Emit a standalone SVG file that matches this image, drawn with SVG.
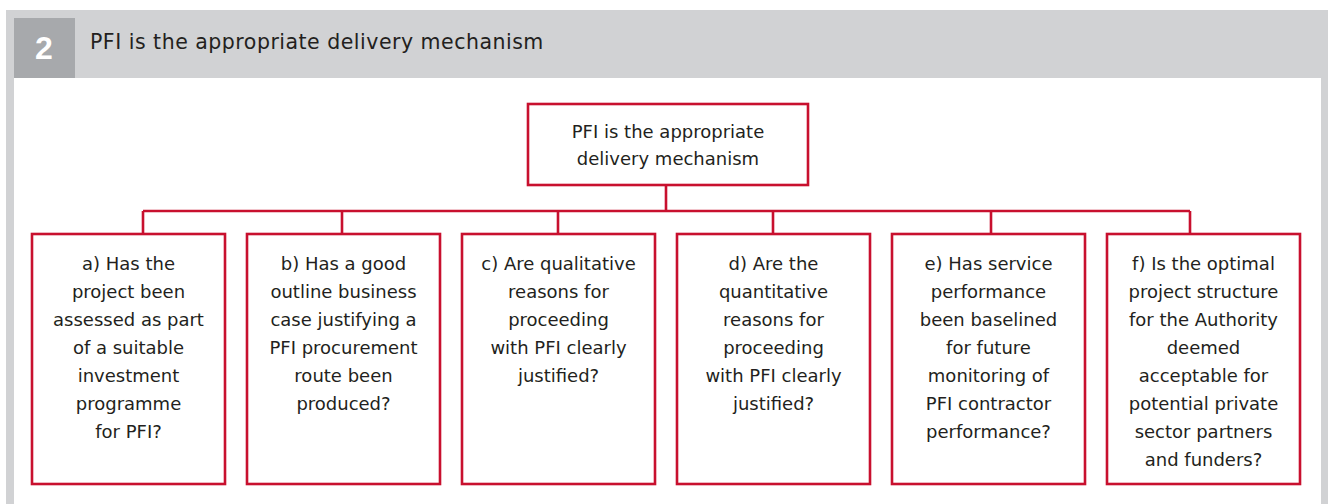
<svg xmlns="http://www.w3.org/2000/svg" width="1328" height="504" viewBox="0 0 1328 504">
<style>
.frame{fill:#d1d2d4}
.box{fill:#ffffff;stroke:#c8102e;stroke-width:2.6}
.conn{fill:none;stroke:#c8102e;stroke-width:2.6}
.t{font-family:"DejaVu Sans","Liberation Sans",sans-serif;font-size:18px;fill:#231f20;text-anchor:middle}
.hdr{font-family:"DejaVu Sans","Liberation Sans",sans-serif;font-size:20.5px;letter-spacing:0.5px;fill:#231f20}
.num{font-family:"Liberation Sans",Arial,sans-serif;font-size:32px;font-weight:bold;fill:#ffffff;text-anchor:middle}
</style>
<rect width="1328" height="504" fill="#ffffff"/>
<g id="frame">
<rect class="frame" x="6" y="10" width="1316" height="68"/>
<rect class="frame" x="6" y="10" width="8" height="494"/>
<rect class="frame" x="1321" y="10" width="7" height="494"/>
<rect x="14" y="18" width="61" height="60" fill="#a7a9ac"/>
<text class="num" x="44" y="59">2</text>
<text class="hdr" x="90" y="49">PFI is the appropriate delivery mechanism</text>
</g>
<g id="connectors">
<path class="conn" d="M666 185V211M143 211H1190M143 211V233M342 211V233M558 211V233M773 211V233M991 211V233M1190 211V233"/>
</g>
<g id="root">
<rect class="box" x="528" y="104" width="280" height="81"/>
<text class="t" x="668" y="138">PFI is the appropriate</text>
<text class="t" x="668" y="165">delivery mechanism</text>
</g>
<g id="node-a">
<rect class="box" x="32" y="234" width="193" height="250"/>
<text class="t" x="128.5" y="270">a) Has the</text>
<text class="t" x="128.5" y="298">project been</text>
<text class="t" x="128.5" y="326">assessed as part</text>
<text class="t" x="128.5" y="354">of a suitable</text>
<text class="t" x="128.5" y="382">investment</text>
<text class="t" x="128.5" y="410">programme</text>
<text class="t" x="128.5" y="438">for PFI?</text>
</g>
<g id="node-b">
<rect class="box" x="247" y="234" width="193" height="250"/>
<text class="t" x="343.5" y="270">b) Has a good</text>
<text class="t" x="343.5" y="298">outline business</text>
<text class="t" x="343.5" y="326">case justifying a</text>
<text class="t" x="343.5" y="354">PFI procurement</text>
<text class="t" x="343.5" y="382">route been</text>
<text class="t" x="343.5" y="410">produced?</text>
</g>
<g id="node-c">
<rect class="box" x="462" y="234" width="193" height="250"/>
<text class="t" x="558.5" y="270">c) Are qualitative</text>
<text class="t" x="558.5" y="298">reasons for</text>
<text class="t" x="558.5" y="326">proceeding</text>
<text class="t" x="558.5" y="354">with PFI clearly</text>
<text class="t" x="558.5" y="382">justified?</text>
</g>
<g id="node-d">
<rect class="box" x="677" y="234" width="193" height="250"/>
<text class="t" x="773.5" y="270">d) Are the</text>
<text class="t" x="773.5" y="298">quantitative</text>
<text class="t" x="773.5" y="326">reasons for</text>
<text class="t" x="773.5" y="354">proceeding</text>
<text class="t" x="773.5" y="382">with PFI clearly</text>
<text class="t" x="773.5" y="410">justified?</text>
</g>
<g id="node-e">
<rect class="box" x="892" y="234" width="193" height="250"/>
<text class="t" x="988.5" y="270">e) Has service</text>
<text class="t" x="988.5" y="298">performance</text>
<text class="t" x="988.5" y="326">been baselined</text>
<text class="t" x="988.5" y="354">for future</text>
<text class="t" x="988.5" y="382">monitoring of</text>
<text class="t" x="988.5" y="410">PFI contractor</text>
<text class="t" x="988.5" y="438">performance?</text>
</g>
<g id="node-f">
<rect class="box" x="1107" y="234" width="193" height="250"/>
<text class="t" x="1203.5" y="270">f) Is the optimal</text>
<text class="t" x="1203.5" y="298">project structure</text>
<text class="t" x="1203.5" y="326">for the Authority</text>
<text class="t" x="1203.5" y="354">deemed</text>
<text class="t" x="1203.5" y="382">acceptable for</text>
<text class="t" x="1203.5" y="410">potential private</text>
<text class="t" x="1203.5" y="438">sector partners</text>
<text class="t" x="1203.5" y="466">and funders?</text>
</g>
</svg>
